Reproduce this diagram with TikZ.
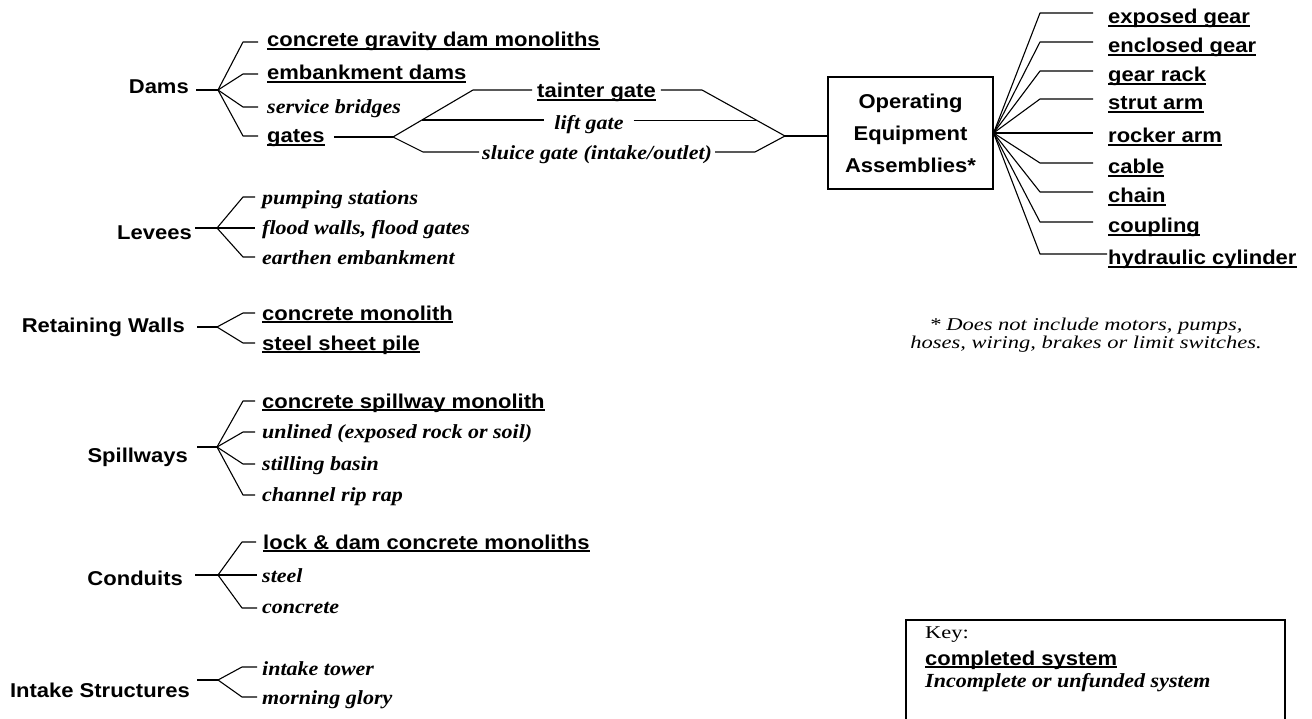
\documentclass[tikz,border=0pt]{standalone}
\usepackage{fontspec}
\setmainfont{Liberation Serif}
\newfontfamily\sbf[FakeStretch=1.1]{Liberation Sans}
\newfontfamily\sbi[FakeStretch=1.1]{Liberation Serif}
\newfontfamily\fnt[FakeStretch=1.25]{Liberation Serif}
\usetikzlibrary{calc}
\newcommand\ulx[1]{\setbox0=\hbox{#1}\rlap{\rule[-3pt]{\wd0}{1.6pt}}\box0}
\tikzset{
  wire/.style={line width=1.1pt, line join=round},
  catnode/.style={font=\sbf\bfseries\fontsize{20}{24}\selectfont, anchor=base east, inner xsep=7pt, inner ysep=0pt},
  donenode/.style={font=\sbf\bfseries\fontsize{20}{24}\selectfont, anchor=base west, inner xsep=#1, inner ysep=0pt},
  donenode/.default=7pt,
  todonode/.style={font=\sbi\bfseries\itshape\fontsize{20}{24}\selectfont, anchor=base west, inner xsep=#1, inner ysep=0pt},
  todonode/.default=7pt,
}
\begin{document}
\begin{tikzpicture}[x=1pt,y=-1pt]
\useasboundingbox (0,0) rectangle (1312,719);

% ---------------- Dams
\node[catnode] (dams) at (196,94) {Dams};
\coordinate (bd) at (218,90);
\coordinate (d1) at (243,42);
\coordinate (d2) at (243,74);
\coordinate (d3) at (243,107);
\coordinate (d4) at (243,136);
\node[donenode=9pt] (cg) at (258,47) {\ulx{concrete gravity dam monoliths}};
\node[donenode=9pt] (em) at (258,80) {\ulx{embankment dams}};
\node[todonode=9pt] (sv) at (258,114) {service bridges};
\node[donenode=9pt] (ga) at (258,143) {\ulx{gates}};
\draw[wire] (dams.east |- bd) -- (bd);
\draw[wire] (bd) -- (d1) -- (cg.west |- d1);
\draw[wire] (bd) -- (d2) -- (em.west |- d2);
\draw[wire] (bd) -- (d3) -- (sv.west |- d3);
\draw[wire] (bd) -- (d4) -- (ga.west |- d4);

% gates subtree
\coordinate (bg) at (393,137);
\coordinate (ta) at (473,90);
\coordinate (tb) at (702,90);
\coordinate (bo) at (785,136);
\coordinate (la) at ($(bg)!0.3625!(ta)$);
\coordinate (lb) at ($(tb)!0.663!(bo)$);
\coordinate (sa) at (423,152);
\coordinate (sc) at (755,152);
\node[donenode=5pt] (tg) at (532,98) {\ulx{tainter gate}};
\node[todonode=10pt, anchor=base] (lg) at (589,130) {lift gate};
\node[todonode=3pt] (sl) at (479,160) {sluice gate (intake/outlet)};
\draw[wire] (ga.east |- bg) -- (bg);
\draw[wire] (bg) -- (ta) -- (tg.west |- ta);
\draw[wire] (tg.east |- tb) -- (tb) -- (bo);
\draw[wire] (la) -- (lg.west |- la);
\draw[wire] (lg.east |- lb) -- (lb);
\draw[wire] (bg) -- (sa) -- (sl.west |- sa);
\draw[wire] (sl.east |- sc) -- (sc) -- (bo);

% Operating equipment box
\node[draw, line width=1.1pt, minimum width=165pt, minimum height=112pt, inner sep=0pt, align=center,
      font=\sbf\bfseries\fontsize{20}{32}\selectfont] (oe) at (910.5,133) {Operating\\Equipment\\Assemblies*};
\draw[wire] (bo) -- (oe.west |- bo);

% right fan
\coordinate (r1) at (1040,13);
\coordinate (r2) at (1040,42);
\coordinate (r3) at (1040,71);
\coordinate (r4) at (1040,99);
\coordinate (r6) at (1040,163);
\coordinate (r7) at (1040,192);
\coordinate (r8) at (1040,222);
\coordinate (r9) at (1040,254);
\node[donenode=15pt] (eg) at (1093,24) {\ulx{exposed gear}};
\node[donenode=15pt] (ng) at (1093,53) {\ulx{enclosed gear}};
\node[donenode=15pt] (gr) at (1093,82) {\ulx{gear rack}};
\node[donenode=15pt] (st) at (1093,110) {\ulx{strut arm}};
\node[donenode=15pt] (ra) at (1093,143) {\ulx{rocker arm}};
\node[donenode=15pt] (ca) at (1093,174) {\ulx{cable}};
\node[donenode=15pt] (ch) at (1093,203) {\ulx{chain}};
\node[donenode=15pt] (cp) at (1093,233) {\ulx{coupling}};
\node[donenode=1pt] (hc) at (1107,265) {\ulx{hydraulic cylinder}};
\draw[wire] (oe.east) -- (r1) -- (eg.west |- r1);
\draw[wire] (oe.east) -- (r2) -- (ng.west |- r2);
\draw[wire] (oe.east) -- (r3) -- (gr.west |- r3);
\draw[wire] (oe.east) -- (r4) -- (st.west |- r4);
\draw[wire] (oe.east) -- (ra.west |- oe.east);
\draw[wire] (oe.east) -- (r6) -- (ca.west |- r6);
\draw[wire] (oe.east) -- (r7) -- (ch.west |- r7);
\draw[wire] (oe.east) -- (r8) -- (cp.west |- r8);
\draw[wire] (oe.east) -- (r9) -- (hc.west |- r9);

% footnote
\node[font=\fnt\itshape\fontsize{18}{17.5}\selectfont, align=center, inner sep=0pt] (fn) at (1086,335)
  {* Does not include motors, pumps,\\hoses, wiring, brakes or limit switches.};

% ---------------- Levees
\node[catnode, inner xsep=3pt] (lev) at (195,240) {Levees};
\coordinate (bl) at (217,228);
\coordinate (l1) at (243,197);
\coordinate (l3) at (243,257);
\node[todonode] (ps) at (255,205) {pumping stations};
\node[todonode] (fw) at (255,235) {flood walls, flood gates};
\node[todonode] (ee) at (255,265) {earthen embankment};
\draw[wire] (lev.east |- bl) -- (bl);
\draw[wire] (bl) -- (l1) -- (ps.west |- l1);
\draw[wire] (bl) -- (fw.west |- bl);
\draw[wire] (bl) -- (l3) -- (ee.west |- l3);

% ---------------- Retaining Walls
\node[catnode, inner xsep=12pt] (rw) at (197,333) {Retaining Walls};
\coordinate (bw) at (217,327);
\coordinate (w1) at (243,313);
\coordinate (w2) at (243,343);
\node[donenode] (cm) at (255,320) {\ulx{concrete monolith}};
\node[donenode] (sp) at (255,350) {\ulx{steel sheet pile}};
\draw[wire] (rw.east |- bw) -- (bw);
\draw[wire] (bw) -- (w1) -- (cm.west |- w1);
\draw[wire] (bw) -- (w2) -- (sp.west |- w2);

% ---------------- Spillways
\node[catnode, inner xsep=9pt] (spw) at (197,462) {Spillways};
\coordinate (bs) at (217,447);
\coordinate (s1) at (243,401);
\coordinate (s2) at (243,432);
\coordinate (s3) at (243,464);
\coordinate (s4) at (243,495);
\node[donenode] (csm) at (255,408) {\ulx{concrete spillway monolith}};
\node[todonode] (un) at (255,438) {unlined (exposed rock or soil)};
\node[todonode] (sbn) at (255,470) {stilling basin};
\node[todonode] (crr) at (255,501) {channel rip rap};
\draw[wire] (spw.east |- bs) -- (bs);
\draw[wire] (bs) -- (s1) -- (csm.west |- s1);
\draw[wire] (bs) -- (s2) -- (un.west |- s2);
\draw[wire] (bs) -- (s3) -- (sbn.west |- s3);
\draw[wire] (bs) -- (s4) -- (crr.west |- s4);

% ---------------- Conduits
\node[catnode, inner xsep=12pt] (con) at (195,585) {Conduits};
\coordinate (bc) at (218,575);
\coordinate (c1) at (242,542);
\coordinate (c3) at (242,608);
\node[donenode] (ldc) at (256,549) {\ulx{lock \& dam concrete monoliths}};
\node[todonode,inner xsep=5pt] (stl) at (257,582) {steel};
\node[todonode,inner xsep=5pt] (cnc) at (257,613) {concrete};
\draw[wire] (con.east |- bc) -- (bc);
\draw[wire] (bc) -- (c1) -- (ldc.west |- c1);
\draw[wire] (bc) -- (stl.west |- bc);
\draw[wire] (bc) -- (c3) -- (cnc.west |- c3);

% ---------------- Intake Structures
\node[catnode] (ins) at (197,697) {Intake Structures};
\coordinate (bi) at (218,680);
\coordinate (i1) at (242,667);
\coordinate (i2) at (242,697);
\node[todonode,inner xsep=5pt] (it) at (257,675) {intake tower};
\node[todonode,inner xsep=5pt] (mg) at (257,704) {morning glory};
\draw[wire] (ins.east |- bi) -- (bi);
\draw[wire] (bi) -- (i1) -- (it.west |- i1);
\draw[wire] (bi) -- (i2) -- (mg.west |- i2);

% ---------------- Key
\draw[line width=1.1pt] (906,719) -- (906,620) -- (1285,620) -- (1285,719);
\node[font=\fnt\fontsize{18}{20}\selectfont, anchor=base west, inner sep=0pt] (key) at (925,638) {Key:};
\node[donenode=0pt] (kc) at (925,665) {\ulx{completed system}};
\node[todonode=0pt] (ki) at (925,687) {Incomplete or unfunded system};
\end{tikzpicture}
\end{document}
